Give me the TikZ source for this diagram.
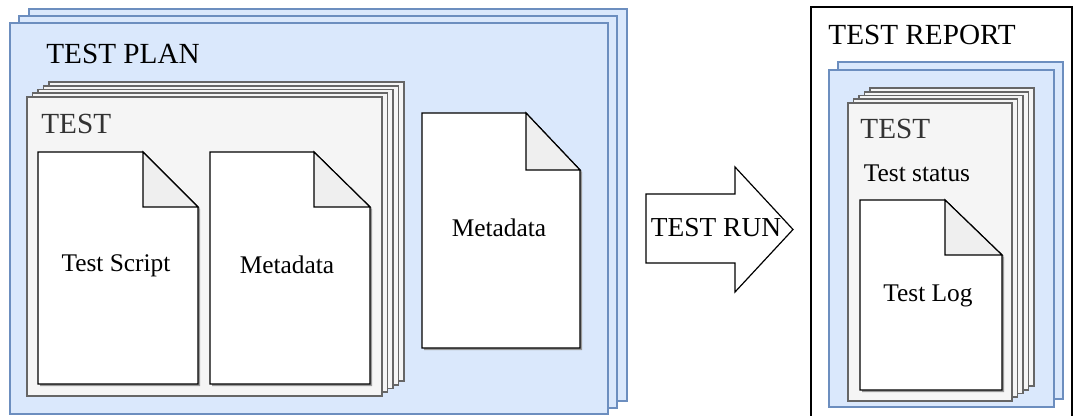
\documentclass[tikz,border=0pt]{standalone}
\usepackage{fontspec}
\setmainfont{Liberation Serif}
\definecolor{planfill}{HTML}{DAE8FC}
\definecolor{plandraw}{HTML}{6C8EBF}
\definecolor{testfill}{HTML}{F5F5F5}
\definecolor{testdraw}{HTML}{666666}
\definecolor{testtext}{HTML}{333333}
\definecolor{foldfill}{HTML}{EFEFEF}

\begin{document}
\begin{tikzpicture}%
	[x=0.5pt,
	y=-0.5pt,
	plan/.style={draw=plandraw, fill=planfill, line width=0.75pt},
	report/.style={draw=black, fill=white, line width=0.6pt},
	test/.style={draw=testdraw, fill=testfill, line width=0.9pt},
	doc/.style={draw=black, fill=white, line width=0.6pt},
	fold/.style={draw=black, fill=foldfill, line width=0.6pt},
	docshadow/.style={fill=black!40},
	runarrow/.style={draw=black, fill=white, line width=0.6pt},
	bigtext/.style={inner sep=0pt, font=\fontsize{14.6}{17}\selectfont},
	runtext/.style={inner sep=0pt, font=\fontsize{13.7}{16}\selectfont},
	smalltext/.style={inner sep=0pt, font=\fontsize{12.7}{15}\selectfont}]
%
\useasboundingbox (0,0) rectangle (1074,416);
\clip (0,0) rectangle (1074,416);
%%
%%
%% Test plan (blue stack)
%%
\draw[plan] (29,9) rectangle (627,401);
\draw[plan] (19,16) rectangle (617,408);
\draw[plan] (10,23) rectangle (608,414);
\node[bigtext, anchor=west] (planlabel) at (46,54) {TEST PLAN};
%%
%% Test (gray stack)
%%
\draw[test] (49,82) rectangle (404,381);
\draw[test] (43.5,85.75) rectangle (398.5,384.75);
\draw[test] (38,89.5) rectangle (393,388.5);
\draw[test] (32.5,93.25) rectangle (387.5,392.25);
\draw[test] (27,97) rectangle (382,396);
\node[bigtext, anchor=west, text=testtext] (testlabel) at (41,124) {TEST};
%%
%% Documents in the test
%%
\fill[docshadow] (40,154) -- (145,154) -- (200,209) -- (200,386) -- (40,386) -- cycle;
\draw[doc] (38,152) -- (143,152) -- (198,207) -- (198,384) -- (38,384) -- cycle;
\draw[fold] (143,152) -- (143,207) -- (198,207) -- cycle;
\node[smalltext] (script) at (116,266) {Test Script};

\fill[docshadow] (212,154) -- (316,154) -- (372,209) -- (372,386) -- (212,386) -- cycle;
\draw[doc] (210,152) -- (314,152) -- (370,207) -- (370,384) -- (210,384) -- cycle;
\draw[fold] (314,152) -- (314,207) -- (370,207) -- cycle;
\node[smalltext] (testmeta) at (287,265) {Metadata};
%%
%% Plan metadata
%%
\fill[docshadow] (424,115) -- (528,115) -- (582,172) -- (582,350) -- (424,350) -- cycle;
\draw[doc] (422,113) -- (526,113) -- (580,170) -- (580,348) -- (422,348) -- cycle;
\draw[fold] (526,113) -- (526,170) -- (580,170) -- cycle;
\node[smalltext] (planmeta) at (499,228) {Metadata};
%%
%%
%% Test run arrow
%%
\draw[runarrow] (646,194) -- (735,194) -- (735,167) -- (793,229.5) -- (735,292) -- (735,263) -- (646,263) -- cycle;
\node[runtext] (run) at (716,228) {TEST RUN};
%%
%%
%% Test report
%%
\draw[report] (811,7) rectangle (1072,440);
\node[bigtext, anchor=west] (reportlabel) at (828,35) {TEST REPORT};

\draw[plan] (838,62) rectangle (1063,399);
\draw[plan] (829,70) rectangle (1054,407);

\draw[test] (870,88) rectangle (1034,386);
\draw[test] (864.5,91.75) rectangle (1028.5,389.75);
\draw[test] (859,95.5) rectangle (1023,393.5);
\draw[test] (853.5,99.25) rectangle (1017.5,397.25);
\draw[test] (848,103) rectangle (1012,401);
\node[bigtext, anchor=west, text=testtext] (reporttest) at (860,129) {TEST};
\node[smalltext] (status) at (917,173) {Test status};

\fill[docshadow] (862,202) -- (947,202) -- (1004,257) -- (1004,392) -- (862,392) -- cycle;
\draw[doc] (860,200) -- (945,200) -- (1002,255) -- (1002,390) -- (860,390) -- cycle;
\draw[fold] (945,200) -- (945,255) -- (1002,255) -- cycle;
\node[smalltext] (log) at (928,296) {Test Log};

\end{tikzpicture}
\end{document}
